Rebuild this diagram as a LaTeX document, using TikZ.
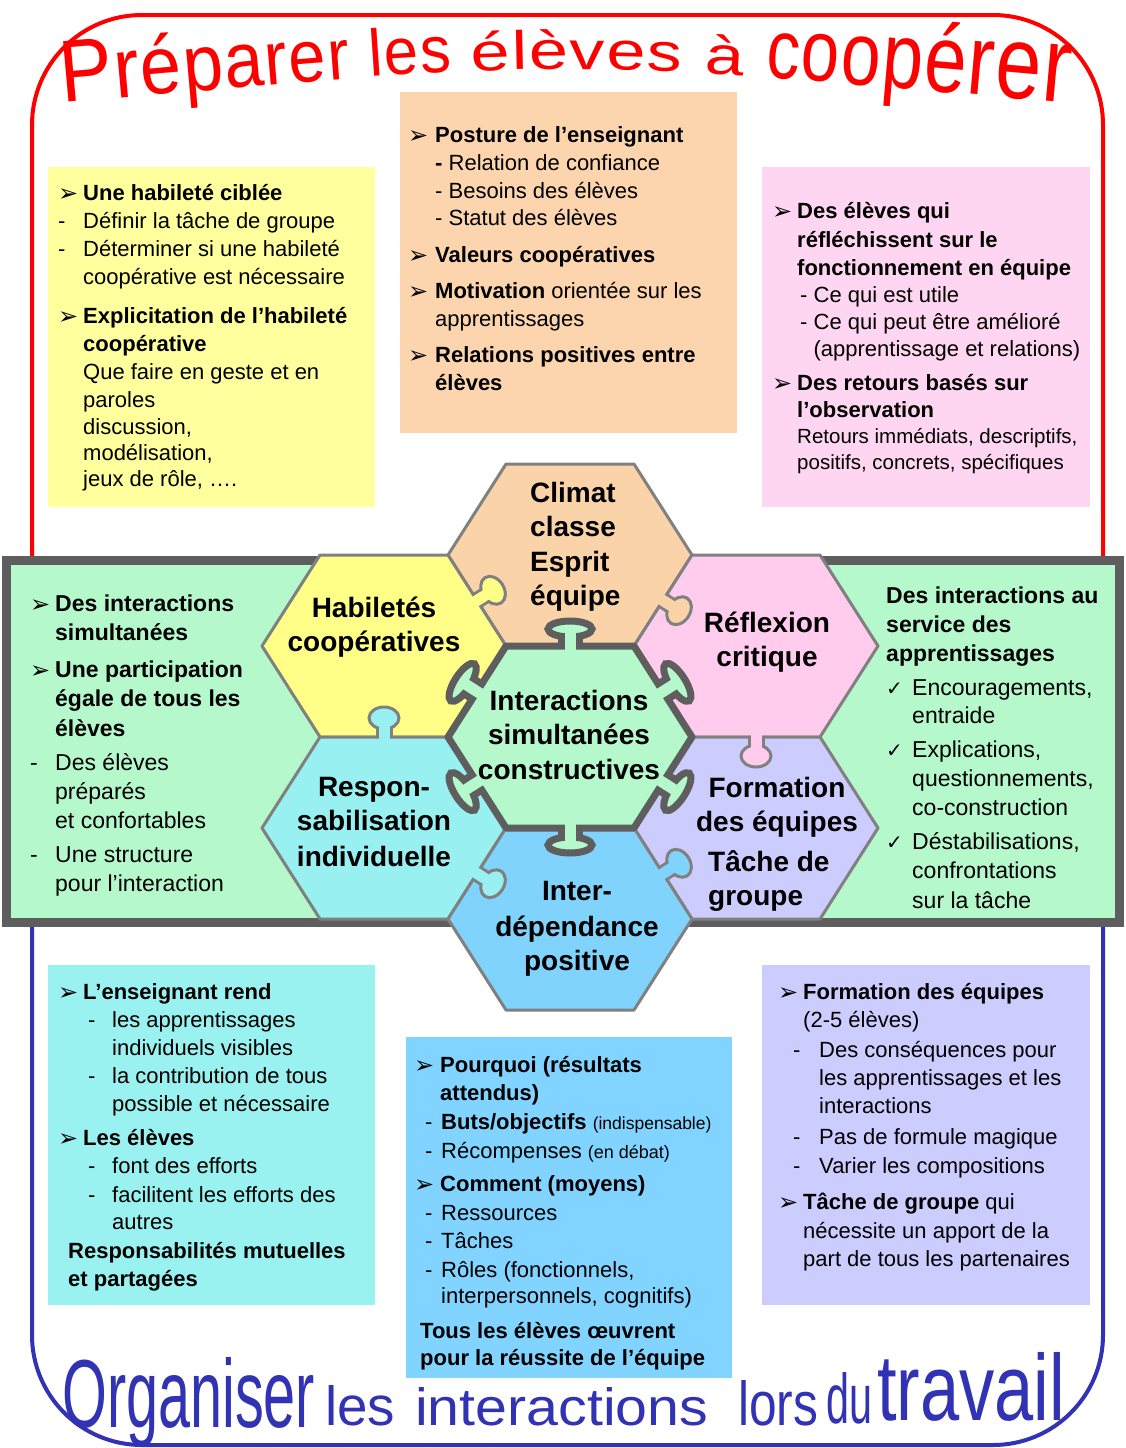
\documentclass[tikz,border=0pt]{standalone}
\usepackage{fontspec}
\usepackage{graphicx}
\setmainfont{Liberation Sans}
\newfontfamily\symf{DejaVu Sans}
\newfontfamily\tpA[FakeStretch=0.90]{Liberation Sans}
\newfontfamily\tpB[FakeStretch=0.93]{Liberation Sans}
\newfontfamily\tpC[FakeStretch=1.30]{Liberation Sans}
\newfontfamily\tpD[FakeStretch=0.79]{Liberation Sans}
\newcommand{\tfA}[1]{\tpA\fontsize{#1}{#1}\selectfont}
\newcommand{\tfB}[1]{\tpB\fontsize{#1}{#1}\selectfont}
\newcommand{\tfC}[1]{\tpC\fontsize{#1}{#1}\selectfont}
\newcommand{\tfD}[1]{\tpD\fontsize{#1}{#1}\selectfont}
\usetikzlibrary{decorations.text}
\definecolor{yhex}{HTML}{FFFF88}
\definecolor{ybox}{HTML}{FFFF9E}
\definecolor{ohex}{HTML}{FAD4A8}
\definecolor{obox}{HTML}{FCD5AE}
\definecolor{phex}{HTML}{FFCCEE}
\definecolor{pbox}{HTML}{FFD6F1}
\definecolor{chex}{HTML}{99F0F0}
\definecolor{cbox}{HTML}{99F2F0}
\definecolor{bhex}{HTML}{80D3FC}
\definecolor{bbox}{HTML}{80D4FF}
\definecolor{vhex}{HTML}{CCCCFF}
\definecolor{vbox}{HTML}{CCCCFF}
\definecolor{gfill}{HTML}{B4F8CB}
\definecolor{bandc}{HTML}{5E5E5E}
\definecolor{hexc}{HTML}{808080}
\definecolor{redt}{HTML}{FF0000}
\definecolor{bluet}{HTML}{3232B4}
\newcommand{\barr}[1][25pt]{\makebox[#1][l]{\raisebox{-1pt}{\symf\fontsize{24}{24}\selectfont ➢}}}
\newcommand{\indt}[1][25pt]{\hspace*{#1}}
\newcommand{\chkm}{\makebox[26pt][l]{\symf\fontsize{20}{20}\selectfont ✓}}
\newcommand{\setfs}[2]{\fontsize{#1}{#2}\selectfont}
\newcommand{\hexat}[4]{\begin{scope}[shift={(#1,#2)}]\filldraw[#4, fill=#3] (-122,0) -- (-64,-91) -- (64,-91) -- (122,0) -- (64,91) -- (-64,91) -- cycle;\end{scope}}
\newcommand{\jigtab}[5]{%
 \begin{scope}[shift={(#1,#2)}, rotate=#3]
  \pgfmathsetmacro{\jxi}{\jd-\jrx*sqrt(1-(\jn/\jry)^2)}
  \pgfmathsetmacro{\jmm}{\jn-\jlw/2}
  \draw[#5, line width=\jlw pt] (0,-\jn) -- (\jxi,-\jn) (0,\jn) -- (\jxi,\jn);
  \filldraw[fill=#4, draw=#5, line width=\jlw pt] (\jd,0) ellipse [x radius=\jrx, y radius=\jry];
  \fill[#4] (-\jlw,-\jmm) -- (\jd,-\jmm) -- (\jd,\jmm) -- (-\jlw,\jmm) -- cycle;
 \end{scope}}
\tikzset{
 boxtxt/.style={anchor=north west, align=left, inner sep=0pt, font=\setfs{22}{28}},
 bandtxt/.style={anchor=north west, align=left, inner sep=0pt, font=\setfs{23}{29}},
 hexlbl/.style={inner sep=0pt, align=center, font=\bfseries\setfs{28}{34.5}},
 outhex/.style={draw=hexc, line width=3pt, line join=round},
 midhex/.style={draw=bandc, line width=7pt, line join=round},
 btitle/.style={anchor=base west, inner sep=0pt, text=bluet},
}
\begin{document}
\begin{tikzpicture}[x=1pt, y=-1pt]
\useasboundingbox (0,0) rectangle (1126,1448);
\fill[white] (0,0) rectangle (1126,1448);
% frames
\draw[redt, line width=4pt, rounded corners=110pt] (32,560) -- (32,15) -- (1103,15) -- (1103,560);
\draw[bluet, line width=4pt, rounded corners=110pt] (32,920) -- (32,1445) -- (1103,1445) -- (1103,920);
% text boxes
\fill[ybox] (48,167) rectangle (375,507);
\fill[obox] (400,92) rectangle (737,433);
\fill[pbox] (762,167) rectangle (1090,507);
\fill[cbox] (48,965) rectangle (375,1305);
\fill[bbox] (406,1037) rectangle (732,1378);
\fill[vbox] (762,965) rectangle (1090,1305);
% band
\draw[bandc, line width=9pt, fill=gfill] (6.5,560) rectangle (1119.5,922);
% outer hexagons
\hexat{570}{555}{ohex}{outhex}
\hexat{384}{646}{yhex}{outhex}
\hexat{756}{646}{phex}{outhex}
\hexat{384}{828}{chex}{outhex}
\hexat{756}{828}{vhex}{outhex}
\hexat{570}{919}{bhex}{outhex}
% outer tabs
\def\jlw{3}\def\jn{7}\def\jd{19}\def\jrx{11}\def\jry{15}
\jigtab{477}{600.5}{32.5}{yhex}{hexc}
\jigtab{663}{600.5}{-32.5}{ohex}{hexc}
\jigtab{756}{737}{-90}{phex}{hexc}
\jigtab{663}{873.5}{32.5}{bhex}{hexc}
\jigtab{477}{873.5}{-32.5}{chex}{hexc}
\jigtab{384}{737}{90}{chex}{hexc}
% centre piece
\hexat{570}{737}{gfill}{midhex}
\def\jlw{7}\def\jn{9}\def\jd{17}\def\jrx{8}\def\jry{22}
\jigtab{570}{646}{90}{gfill}{bandc}
\jigtab{570}{828}{-90}{gfill}{bandc}
\jigtab{663}{691.5}{32.5}{gfill}{bandc}
\jigtab{663}{782.5}{-32.5}{gfill}{bandc}
\jigtab{477}{691.5}{147.5}{gfill}{bandc}
\jigtab{477}{782.5}{-147.5}{gfill}{bandc}
% hex labels
\node[hexlbl, anchor=north west, align=left] (climat) at (530,477.9) {\strut Climat\\classe\\Esprit\\équipe};
\node[hexlbl, anchor=north] (habil) at (374,592.9) {\strut Habiletés\\coopératives};
\node[hexlbl, anchor=north] (reflex) at (767,607.9) {\strut Réflexion\\critique};
\node[hexlbl, anchor=north] (inter) at (569,685.9) {\strut Interactions\\simultanées\\constructives};
\node[hexlbl, anchor=north] (respon) at (374,771.9) {\strut Respon-\\sabilisation\\[1.5pt]individuelle};
\node[hexlbl, anchor=north] (forma) at (777,772.9) {\strut Formation\\des équipes};
\node[hexlbl, anchor=north west, align=left] (tache) at (708,846.9) {\strut Tâche de\\groupe};
\node[hexlbl, anchor=north] (interdep) at (577,875.9) {\strut Inter-\\[1.5pt]dépendance\\[-0.5pt]positive};
% box texts
\node[boxtxt] (tyellow) at (58,180.4) {\strut\barr\textbf{Une habileté ciblée}\\
\makebox[25pt][l]{-}Définir la tâche de groupe\\
\makebox[25pt][l]{-}Déterminer si une habileté\\
\indt coopérative est nécessaire\\[11pt]
\barr\textbf{Explicitation de l’habileté}\\
\indt\textbf{coopérative}\\
\indt Que faire en geste et en\\
\indt paroles\\[-1pt]
\indt discussion,\\[-2pt]
\indt modélisation,\\[-2pt]
\indt jeux de rôle, ….};
\node[boxtxt] (torange) at (408,122.4) {\strut\barr[27pt]\textbf{Posture de l’enseignant}\\
\indt[27pt]\textbf{-} Relation de confiance\\
\indt[27pt]- Besoins des élèves\\[-1pt]
\indt[27pt]- Statut des élèves\\[9pt]
\barr[27pt]\textbf{Valeurs coopératives}\\[8pt]
\barr[27pt]\textbf{Motivation} orientée sur les\\
\indt[27pt]apprentissages\\[8pt]
\barr[27pt]\textbf{Relations positives entre}\\
\indt[27pt]\textbf{élèves}};
\node[boxtxt] (tpink) at (772,198.4) {\strut\barr\textbf{Des élèves qui}\\[1pt]
\indt\textbf{réfléchissent sur le}\\
\indt\textbf{fonctionnement en équipe}\\[-1pt]
\indt\hspace*{3pt}- Ce qui est utile\\[-1pt]
\indt\hspace*{3pt}- Ce qui peut être amélioré\\[-1pt]
\indt\hspace*{3pt}\phantom{- }(apprentissage et relations)\\[6pt]
\barr\textbf{Des retours basés sur}\\[-1pt]
\indt\textbf{l’observation}\\[-2pt]
\indt{\setfs{20.5}{26}Retours immédiats, descriptifs,}\\[-2pt]
\indt{\setfs{20.5}{26}positifs, concrets, spécifiques}};
\node[bandtxt] (tleft) at (30,590.7) {\strut\barr\textbf{Des interactions}\\
\indt\textbf{simultanées}\\[8pt]
\barr\textbf{Une participation}\\
\indt\textbf{égale de tous les}\\[1pt]
\indt\textbf{élèves}\\[5pt]
\makebox[25pt][l]{-}Des élèves\\
\indt préparés\\
\indt et confortables\\[5pt]
\makebox[25pt][l]{-}Une structure\\
\indt pour l’interaction};
\node[bandtxt] (tright) at (886,582.7) {\strut\textbf{Des interactions au}\\
\textbf{service des}\\
\textbf{apprentissages}\\[5pt]
\chkm Encouragements,\\[-1pt]
\indt[26pt]entraide\\[5pt]
\chkm Explications,\\
\indt[26pt]questionnements,\\
\indt[26pt]co-construction\\[5pt]
\chkm Déstabilisations,\\
\indt[26pt]confrontations\\[1pt]
\indt[26pt]sur la tâche};
\node[boxtxt] (tcyan) at (58,979.4) {\strut\barr\textbf{L’enseignant rend}\\
\hspace*{30pt}\makebox[24pt][l]{-}les apprentissages\\
\hspace*{54pt}individuels visibles\\
\hspace*{30pt}\makebox[24pt][l]{-}la contribution de tous\\
\hspace*{54pt}possible et nécessaire\\[6pt]
\barr\textbf{Les élèves}\\
\hspace*{30pt}\makebox[24pt][l]{-}font des efforts\\[1pt]
\hspace*{30pt}\makebox[24pt][l]{-}facilitent les efforts des\\[-1pt]
\hspace*{54pt}autres\\[1pt]
\hspace*{10pt}\textbf{Responsabilités mutuelles}\\
\hspace*{10pt}\textbf{et partagées}};
\node[boxtxt] (tblue) at (414,1052.4) {\strut\barr[26pt]\textbf{Pourquoi (résultats}\\
\indt[26pt]\textbf{attendus)}\\[1pt]
\hspace*{11pt}\makebox[16pt][l]{-}\textbf{Buts/objectifs} {\setfs{17.5}{20}(indispensable)}\\[1pt]
\hspace*{11pt}\makebox[16pt][l]{-}Récompenses {\setfs{18}{20}(en débat)}\\[5pt]
\barr[26pt]\textbf{Comment (moyens)}\\[1pt]
\hspace*{11pt}\makebox[16pt][l]{-}Ressources\\
\hspace*{11pt}\makebox[16pt][l]{-}Tâches\\[1pt]
\hspace*{11pt}\makebox[16pt][l]{-}Rôles (fonctionnels,\\[-2pt]
\hspace*{27pt}interpersonnels, cognitifs)\\[7pt]
\hspace*{6pt}\textbf{Tous les élèves œuvrent}\\[-1pt]
\hspace*{6pt}\textbf{pour la réussite de l’équipe}};
\node[boxtxt] (tpurple) at (778,979.4) {\strut\barr\textbf{Formation des équipes}\\
\indt(2-5 élèves)\\[2pt]
\hspace*{15pt}\makebox[26pt][l]{-}Des conséquences pour\\
\hspace*{41pt}les apprentissages et les\\
\hspace*{41pt}interactions\\[3pt]
\hspace*{15pt}\makebox[26pt][l]{-}Pas de formule magique\\[1pt]
\hspace*{15pt}\makebox[26pt][l]{-}Varier les compositions\\[8pt]
\barr\textbf{Tâche de groupe} qui\\[1pt]
\indt nécessite un apport de la\\
\indt part de tous les partenaires};
% top title
\path[decorate, decoration={text along path, text align={fit to path}, text color=redt,
  text={|\tfA{88}|P|\tfA{85}|r|\tfA{82}|é|\tfA{80}|p|\tfA{78}|a|\tfA{76}|r|\tfA{74}|e|\tfA{72}|r|\tfB{66}| les |\tfC{54}|élèves à |\tfD{84}|c|\tfD{87}|o|\tfD{90}|o|\tfD{93}|p|\tfD{96}|é|\tfD{100}|r|\tfD{104}|e|\tfD{108}|r}}]
  (62,103) .. controls (565,58) .. (1068,103);
% bottom title
\node[btitle] (w1) at (62,1427) {\resizebox{253pt}{70pt}{Organiser}};
\node[btitle] (w2) at (325,1425) {\resizebox{70pt}{40pt}{les}};
\node[btitle] (w3) at (415,1425) {\resizebox{293pt}{38pt}{interactions}};
\node[btitle] (w4) at (738,1425) {\resizebox{80pt}{45pt}{lors}};
\node[btitle] (w5) at (826,1423) {\resizebox{46pt}{51pt}{du}};
\node[btitle] (w6) at (877,1420) {\resizebox{188pt}{68pt}{travail}};
\end{tikzpicture}
\end{document}
